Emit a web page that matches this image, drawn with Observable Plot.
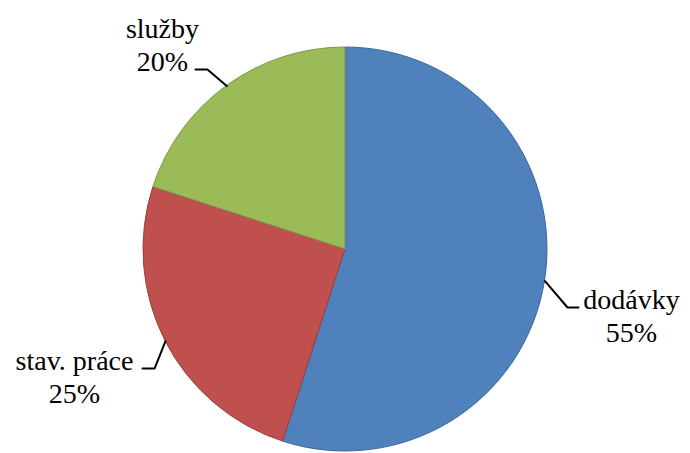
<!DOCTYPE html>
<html>
<head>
<meta charset="utf-8">
<script src="https://cdn.jsdelivr.net/npm/d3@7"></script>
<script src="https://cdn.jsdelivr.net/npm/@observablehq/plot@0.6"></script>
<style>
  body { margin: 0; background: #fff; }
  #chart svg { display: block; }
</style>
</head>
<body>
<div id="chart"></div>
<script>
// Shares of the contract volume by type
const categories = ["dodávky", "stav. práce", "služby"];
const shares = [55, 25, 20];

// Slice fill and outline colours
const fills = ["#4F81BD", "#C0504D", "#9BBB59"];
const outlines = ["#3d6797", "#9a3e3b", "#7d9847"];

// Layout: pie centre and radius (px), leader elbows/ends and label
// centres given as pixel offsets from the rim point at each slice's mid-angle
const W = 690, H = 453, CX = 345, CY = 249, R = 202;
const leaderElbow = [[22.5, 26.4], [-11, 27.3], [-19.3, -16.6]];
const leaderEnd = [[33.5, 26.4], [-23, 27.3], [-31.3, -16.6]];
const labelOffset = [[86.5, 33.6], [-91, 34.5], [-64.3, -42.4]];
const labelFont = "Tinos, 'Liberation Serif', 'DejaVu Serif', 'Times New Roman', Times, serif";

const data = categories.map((name, i) => ({name, value: shares[i], i}));
const arcs = d3.pie().sort(null).value(d => d.value)(data);
const mid = arcs.map(a => (a.startAngle + a.endAngle) / 2);
const rim = mid.map(m => [Math.sin(m), Math.cos(m)]);   // unit coords, y up

// Pixel offsets converted to unit coordinates (y up)
const toUnit = ([dx, dy]) => [dx / R, -dy / R];

const leaders = data.flatMap((d, i) => {
  const e = toUnit(leaderElbow[i]), t = toUnit(leaderEnd[i]);
  return [
    {k: i, x: rim[i][0], y: rim[i][1]},
    {k: i, x: rim[i][0] + e[0], y: rim[i][1] + e[1]},
    {k: i, x: rim[i][0] + t[0], y: rim[i][1] + t[1]}
  ];
});

const labels = data.map((d, i) => {
  const o = toUnit(labelOffset[i]);
  return {text: `${d.name}\n${d.value}%`, x: rim[i][0] + o[0], y: rim[i][1] + o[1]};
});

// Pie wedges drawn with d3.arc, positioned through Plot's x/y scales
function pie(index, scales) {
  const cx = scales.x(0), cy = scales.y(0), r = scales.x(1) - scales.x(0);
  const arc = d3.arc().innerRadius(0).outerRadius(r);
  const g = d3.create("svg:g").attr("transform", `translate(${cx},${cy})`);
  g.selectAll("path")
    .data(arcs)
    .join("path")
      .attr("d", arc)
      .attr("fill", d => fills[d.data.i])
      .attr("stroke", d => outlines[d.data.i])
      .attr("stroke-width", 1)
      .attr("stroke-linejoin", "round");
  return g.node();
}

const chart = Plot.plot({
  width: W,
  height: H,
  margin: 0,
  x: {domain: [-1, 1], range: [CX - R, CX + R], axis: null},
  y: {domain: [-1, 1], range: [CY + R, CY - R], axis: null},
  style: {background: "#fff"},
  marks: [
    pie,
    Plot.line(leaders, {x: "x", y: "y", z: "k", stroke: "#000", strokeWidth: 2, strokeLinejoin: "miter"}),
    Plot.text(labels, {
      x: "x", y: "y", text: "text",
      fontSize: 28,
      fill: "#000",
      textAnchor: "middle",
      lineAnchor: "middle",
      lineHeight: 1.2
    })
  ]
});

// Serif face for the slice labels
d3.select(chart).selectAll("text").style("font-family", labelFont);

document.getElementById("chart").append(chart);
</script>
</body>
</html>
